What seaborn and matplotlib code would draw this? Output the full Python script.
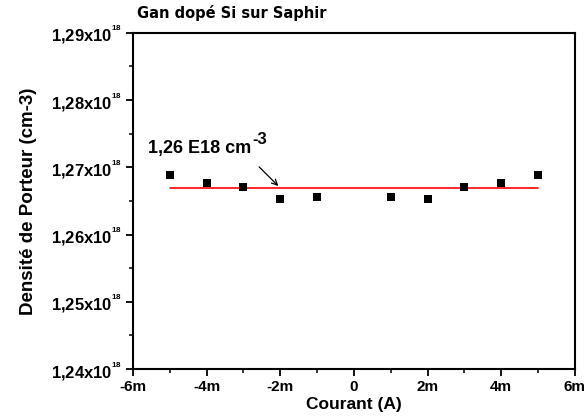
import matplotlib
matplotlib.use("Agg")
import matplotlib.pyplot as plt
import seaborn as sns
import pandas as pd
from matplotlib.ticker import FuncFormatter, MultipleLocator

# Data (current in A, carrier density in cm^-3)
courant = [-0.005, -0.004, -0.003, -0.002, -0.001, 0.001, 0.002, 0.003, 0.004, 0.005]
densite = [1.26887e18, 1.26763e18, 1.26704e18, 1.26525e18, 1.26555e18,
           1.26555e18, 1.26525e18, 1.26704e18, 1.26763e18, 1.26887e18]
fit_x = [-0.005, 0.005]
fit_y = [1.26693e18, 1.26693e18]
title = "Gan dopé Si sur Saphir"
annot = "1,26 E18 cm"
annot_exp = "-3"

sns.set_style("ticks")
plt.rcParams['font.family'] = ['Liberation Sans', 'DejaVu Sans']
plt.rcParams['font.weight'] = 'bold'
plt.rcParams['text.color'] = 'black'
plt.rcParams['axes.labelcolor'] = 'black'
plt.rcParams['xtick.color'] = 'black'
plt.rcParams['ytick.color'] = 'black'
plt.rcParams['mathtext.fontset'] = 'custom'
plt.rcParams['mathtext.rm'] = 'Liberation Sans:bold'
plt.rcParams['mathtext.it'] = 'Liberation Sans:bold'
plt.rcParams['mathtext.bf'] = 'Liberation Sans:bold'

fig = plt.figure(figsize=(5.86, 4.16), dpi=100)
ax = fig.add_axes([0.227, 0.113, 0.754, 0.808])

df = pd.DataFrame({"x": courant, "y": densite})
fit = pd.DataFrame({"x": fit_x, "y": fit_y})
sns.lineplot(data=fit, x="x", y="y", ax=ax, color="#ff0000", linewidth=1.2)
sns.scatterplot(data=df, x="x", y="y", ax=ax, marker="s", color="black",
                s=36, edgecolor="black", linewidth=0, zorder=3)

ax.set_xlim(-0.006, 0.006)
ax.set_ylim(1.24e18, 1.29e18)
ax.xaxis.set_major_locator(MultipleLocator(0.002))
ax.xaxis.set_minor_locator(MultipleLocator(0.001))
ax.yaxis.set_major_locator(MultipleLocator(0.01e18))
ax.yaxis.set_minor_locator(MultipleLocator(0.005e18))

def xfmt(v, pos):
    n = int(round(v * 1000))
    return "0" if n == 0 else f"{n}m"

def yfmt(v, pos):
    return f"{v/1e18:.2f}".replace(".", ",") + "x10$^{^{18}}$"

ax.xaxis.set_major_formatter(FuncFormatter(xfmt))
ax.yaxis.set_major_formatter(FuncFormatter(yfmt))

for s in ax.spines.values():
    s.set_visible(True)
    s.set_linewidth(1.5)
    s.set_color("black")
ax.tick_params(which="major", direction="out", length=5, width=1.3,
               colors="black", top=False, right=False)
ax.tick_params(axis="x", which="major", labelsize=11, pad=3)
ax.tick_params(axis="y", which="major", labelsize=12, pad=3)
ax.tick_params(which="minor", direction="out", length=3, width=1.1,
               top=False, right=False)

ax.set_xlabel("Courant (A)", fontsize=12.5, fontweight="bold", labelpad=2)
ax.set_ylabel("Densité de Porteur (cm-3)", fontsize=13.5, fontweight="bold", labelpad=10)

t = ax.text(-0.00559, 1.27214e18, annot, fontsize=13, fontweight="bold",
            ha="left", va="baseline")
ax.annotate(annot_exp, xy=(1, 0), xycoords=t, xytext=(1, 7),
            textcoords="offset points", fontsize=12, fontweight="bold",
            ha="left", va="bottom")
ax.annotate("", xy=(-0.0020, 1.26693e18), xytext=(-0.00263, 1.27036e18),
            arrowprops=dict(arrowstyle="->", color="black", lw=0.9))

fig.text(137/586, 1 - 13/416, title, fontsize=10.5, fontweight="bold",
         family=["DejaVu Sans"], ha="left", va="center")

fig.savefig("out.png", dpi=100)
